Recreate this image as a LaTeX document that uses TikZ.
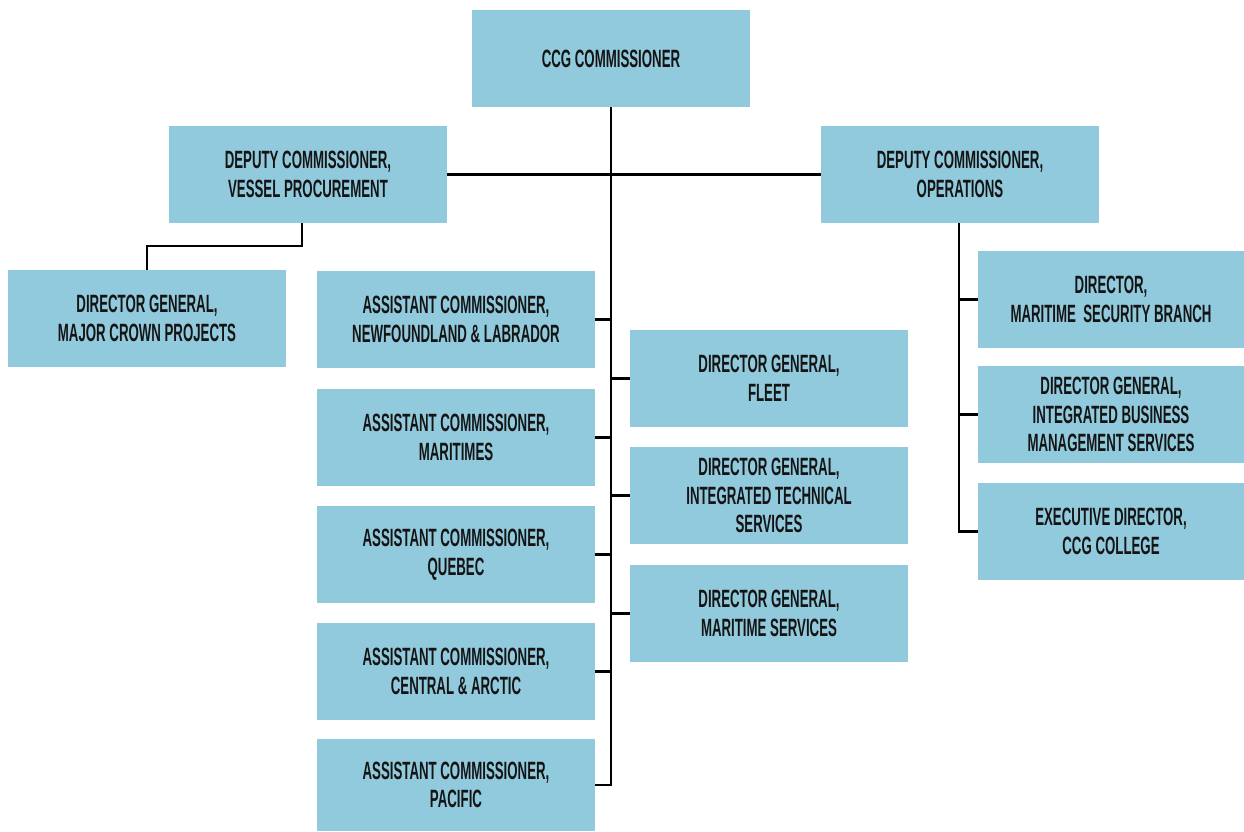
\documentclass[tikz,border=0pt]{standalone}
\usepackage{fontspec}
\setmainfont{Liberation Sans}[FakeStretch=0.53]
\definecolor{boxblue}{HTML}{92CADD}
\definecolor{txt}{HTML}{141414}
\begin{document}
\begin{tikzpicture}[x=1pt,y=-1pt,
  orgbox/.style={fill=boxblue, minimum width=278pt, minimum height=97pt, inner sep=0pt,
    align=center, text=txt, font=\fontsize{25}{28.5}\selectfont\bfseries},
  narrowbox/.style={orgbox, minimum width=266pt},
  link/.style={draw=black, line width=2.5pt, line join=miter}]
\useasboundingbox (0,0) rectangle (1244,831);
% top levels
\node[orgbox] (ccg) at (611,58.5) {CCG COMMISSIONER};
\node[orgbox] (dvp) at (308,174.5) {DEPUTY COMMISSIONER,\\VESSEL PROCUREMENT};
\node[orgbox] (dops) at (960,174.5) {DEPUTY COMMISSIONER,\\OPERATIONS};
% left
\node[orgbox] (dgmcp) at (147,318.5) {DIRECTOR GENERAL,\\MAJOR CROWN PROJECTS};
\node[orgbox] (acnl) at (456,319.5) {ASSISTANT COMMISSIONER,\\NEWFOUNDLAND \& LABRADOR};
\node[orgbox] (acm) at (456,437.5) {ASSISTANT COMMISSIONER,\\MARITIMES};
\node[orgbox] (acq) at (456,554.5) {ASSISTANT COMMISSIONER,\\QUEBEC};
\node[orgbox] (acc) at (456,671.5) {ASSISTANT COMMISSIONER,\\CENTRAL \& ARCTIC};
\node[orgbox, minimum height=92pt] (acp) at (456,785) {ASSISTANT COMMISSIONER,\\PACIFIC};
% middle right
\node[orgbox] (dgf) at (769,378.5) {DIRECTOR GENERAL,\\FLEET};
\node[orgbox] (dgits) at (769,495.5) {DIRECTOR GENERAL,\\INTEGRATED TECHNICAL\\SERVICES};
\node[orgbox] (dgms) at (769,613.5) {DIRECTOR GENERAL,\\MARITIME SERVICES};
% far right
\node[narrowbox] (dmsb) at (1111,299.5) {DIRECTOR,\\MARITIME\ \ SECURITY BRANCH};
\node[narrowbox] (dgibms) at (1111,414.5) {DIRECTOR GENERAL,\\INTEGRATED BUSINESS\\MANAGEMENT SERVICES};
\node[narrowbox] (edc) at (1111,531.5) {EXECUTIVE DIRECTOR,\\CCG COLLEGE};
% connectors
\draw[link] (ccg.south) -- (ccg.south |- acp.east) -- (acp.east);
\foreach \n in {acnl,acm,acq,acc} \draw[link] (\n.east) -- (\n.east -| ccg.south);
\foreach \n in {dgf,dgits,dgms} \draw[link] (\n.west) -- (\n.west -| ccg.south);
\draw[link] (dvp.east) -- (dops.west);
\draw[link] ([xshift=-6pt]dvp.south) -- ++(0,23) -| (dgmcp.north);
\draw[link] ([xshift=-1pt]dops.south) -- ([xshift=-1pt]dops.south |- edc.west) -- (edc.west);
\foreach \n in {dmsb,dgibms} \draw[link] (\n.west) -- ([xshift=-1pt]\n.west -| dops.south);
\end{tikzpicture}
\end{document}
